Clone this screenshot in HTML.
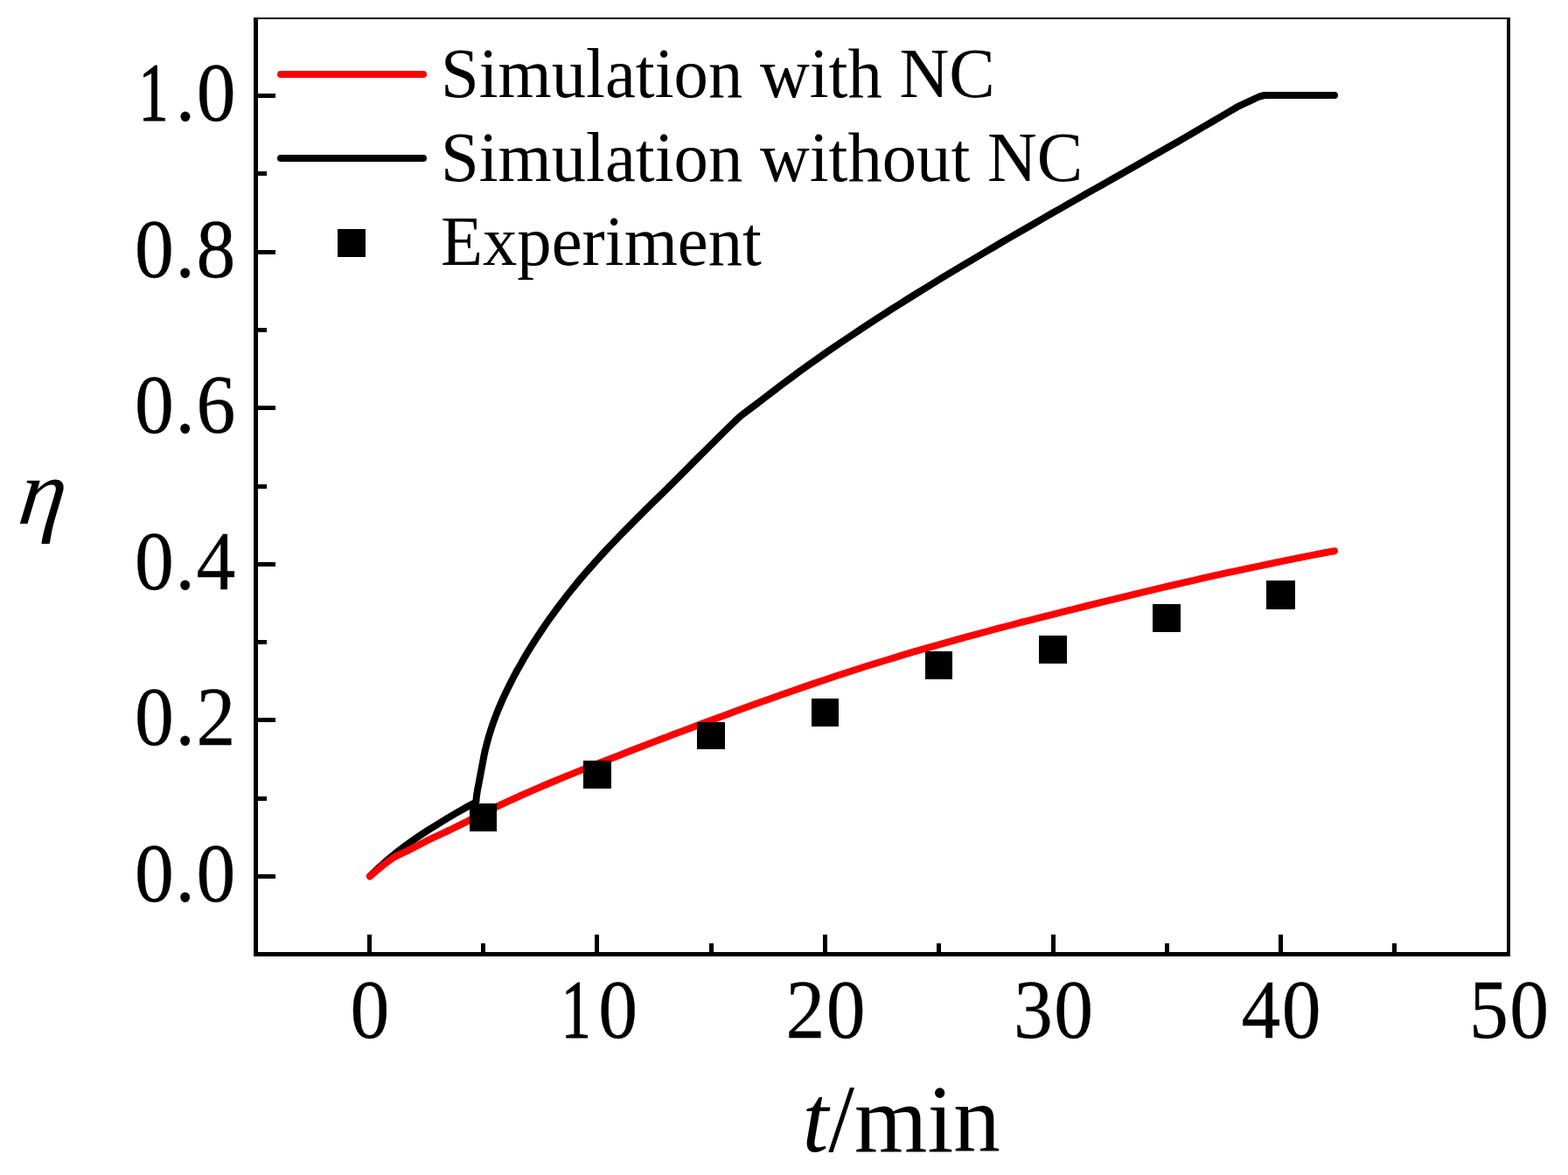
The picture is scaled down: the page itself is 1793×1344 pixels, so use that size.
<!DOCTYPE html>
<html lang="en"><head><meta charset="utf-8"><title>Conversion versus time</title>
<style>
html,body{margin:0;padding:0;background:#fff;}
body{width:1793px;height:1344px;overflow:hidden;}
svg{display:block;}
text{font-family:"Liberation Serif","DejaVu Serif",serif;fill:#000;font-kerning:none;stroke:#000;stroke-width:0;stroke-linejoin:round;}
.tick{stroke-width:0.3px;letter-spacing:1.65px;}
.tick{font-size:92.9px;}
.one{stroke-width:1.2px;}
.leg{font-size:78.6px;}
.tit{font-size:107.2px;}
.it{font-style:italic;}
</style></head><body>
<svg width="1793" height="1344" viewBox="0 0 1793 1344">
<rect x="0" y="0" width="1793" height="1344" fill="#fff"/>
<g fill="#000" shape-rendering="crispEdges">
<rect x="290" y="20" width="5" height="1074"/>
<rect x="1723" y="20" width="4" height="1074"/>
<rect x="290" y="20" width="1437" height="2"/>
<rect x="290" y="1089" width="1437" height="5"/>
<rect x="294" y="1000" width="21" height="5"/>
<rect x="294" y="911" width="11" height="5"/>
<rect x="294" y="821" width="21" height="5"/>
<rect x="294" y="732" width="11" height="5"/>
<rect x="294" y="643" width="21" height="5"/>
<rect x="294" y="554" width="11" height="5"/>
<rect x="294" y="464" width="21" height="5"/>
<rect x="294" y="375" width="11" height="5"/>
<rect x="294" y="286" width="21" height="5"/>
<rect x="294" y="196" width="11" height="5"/>
<rect x="294" y="107" width="21" height="5"/>
<rect x="420" y="1068.5" width="5" height="21.5"/>
<rect x="550" y="1079" width="5" height="11"/>
<rect x="680" y="1068.5" width="5" height="21.5"/>
<rect x="811" y="1079" width="5" height="11"/>
<rect x="941" y="1068.5" width="5" height="21.5"/>
<rect x="1071" y="1079" width="5" height="11"/>
<rect x="1202" y="1068.5" width="5" height="21.5"/>
<rect x="1332" y="1079" width="5" height="11"/>
<rect x="1462" y="1068.5" width="5" height="21.5"/>
<rect x="1592" y="1079" width="5" height="11"/>
</g>
<polyline points="423.1,1002.1 434.0,991.7 444.9,982.1 455.9,973.2 466.8,965.0 477.7,957.4 488.6,950.2 499.6,943.3 510.5,936.6 521.4,930.1 532.3,923.9 544.3,917.5 545.0,910.0 546.2,902.6 547.7,895.1 549.1,887.6 550.5,880.1 551.9,872.7 553.3,865.2 554.9,857.7 556.8,850.2 558.8,842.8 561.1,835.3 563.6,827.8 566.3,820.4 569.2,812.9 572.4,805.4 575.7,797.9 579.2,790.5 582.9,783.0 586.7,775.5 590.7,768.0 594.9,760.6 599.2,753.1 603.6,745.6 608.2,738.2 613.0,730.7 617.9,723.2 622.9,715.7 628.1,708.3 633.5,700.8 639.0,693.3 644.7,685.8 650.5,678.4 656.5,670.9 662.7,663.4 669.1,655.9 675.6,648.5 682.3,641.0 689.1,633.5 696.1,626.1 703.3,618.6 710.5,611.1 717.8,603.6 725.2,596.2 732.7,588.7 740.2,581.2 747.8,573.7 755.3,566.3 762.9,558.8 770.4,551.3 777.9,543.9 785.4,536.4 792.8,528.9 800.3,521.4 807.8,514.0 815.3,506.5 822.8,499.0 830.4,491.5 838.1,484.1 845.9,476.6 855.5,469.3 865.2,462.0 874.8,454.6 884.5,447.2 894.1,439.9 903.8,432.7 913.4,425.5 923.1,418.6 932.7,411.7 942.4,404.9 952.0,398.3 961.6,391.7 971.3,385.2 980.9,378.8 990.6,372.4 1000.2,366.2 1009.9,359.9 1019.5,353.7 1029.2,347.6 1038.8,341.5 1048.5,335.5 1058.1,329.6 1067.8,323.6 1077.4,317.7 1087.0,311.9 1096.7,306.1 1106.3,300.3 1116.0,294.6 1125.6,288.9 1135.3,283.2 1144.9,277.5 1154.6,271.9 1164.2,266.3 1173.9,260.7 1183.5,255.2 1193.1,249.6 1202.8,244.1 1212.4,238.6 1222.1,233.1 1231.7,227.6 1241.4,222.1 1251.0,216.6 1260.7,211.2 1270.3,205.7 1280.0,200.2 1289.6,194.7 1299.3,189.2 1308.9,183.8 1318.5,178.2 1328.2,172.7 1337.8,167.2 1347.5,161.7 1357.1,156.1 1366.8,150.5 1376.4,144.9 1386.1,139.3 1395.7,133.6 1405.4,127.9 1415.0,122.2 1430.0,115.2 1440.0,110.5 1446.0,109.0 1526.0,109.0" fill="none" stroke="#000" stroke-width="8" stroke-linecap="round" stroke-linejoin="round"/>
<polyline points="422.8,1002.4 430.5,996.0 438.1,989.6 444.5,984.9 450.6,980.6 458.0,976.9 466.0,973.2 477.5,967.2 489.0,961.2 501.5,955.3 514.0,949.5 526.0,943.6 534.6,939.3 547.0,933.0 559.4,926.9 571.8,920.9 584.2,915.1 596.6,909.5 609.0,904.1 621.4,898.8 633.8,893.5 646.2,888.4 658.6,883.4 670.9,878.4 683.3,873.5 695.7,868.7 708.1,863.9 720.5,859.1 732.9,854.3 745.3,849.6 757.7,844.8 770.1,840.1 782.5,835.4 794.9,830.7 807.3,826.1 819.6,821.5 832.0,816.9 844.4,812.3 856.8,807.8 869.2,803.3 881.6,798.9 894.0,794.5 906.4,790.2 918.8,785.9 931.2,781.6 943.6,777.5 956.0,773.3 968.4,769.3 980.7,765.3 993.1,761.3 1005.5,757.5 1017.9,753.7 1030.3,749.9 1042.7,746.2 1055.1,742.6 1067.5,739.1 1079.9,735.6 1092.3,732.1 1104.7,728.7 1117.1,725.3 1129.5,722.0 1141.8,718.7 1154.2,715.5 1166.6,712.2 1179.0,709.1 1191.4,705.9 1203.8,702.8 1216.2,699.7 1228.6,696.6 1241.0,693.5 1253.4,690.4 1265.8,687.4 1278.2,684.4 1290.5,681.4 1302.9,678.4 1315.3,675.4 1327.7,672.4 1340.1,669.5 1352.5,666.6 1364.9,663.8 1377.3,660.9 1389.7,658.2 1402.1,655.4 1414.5,652.8 1426.9,650.1 1439.3,647.6 1451.6,645.0 1464.0,642.4 1476.4,639.8 1488.8,637.3 1501.2,634.9 1513.6,632.5 1526.0,630.2" fill="none" stroke="#f00" stroke-width="8" stroke-linecap="round" stroke-linejoin="round"/>
<g fill="#000" shape-rendering="crispEdges">
<rect x="537" y="919" width="31" height="32"/>
<rect x="667" y="870" width="32" height="32"/>
<rect x="797" y="826" width="32" height="31"/>
<rect x="928" y="799" width="31" height="32"/>
<rect x="1058" y="745" width="31" height="32"/>
<rect x="1188" y="727" width="32" height="32" rx="1.5"/>
<rect x="1318" y="691" width="32" height="32" rx="1.5"/>
<rect x="1448" y="664" width="33" height="33" rx="1.5"/>
<rect x="386" y="262" width="32" height="32"/>
</g>
<line x1="321" y1="85" x2="484" y2="85" stroke="#f00" stroke-width="8" stroke-linecap="round"/>
<line x1="321" y1="181" x2="484" y2="181" stroke="#000" stroke-width="8" stroke-linecap="round"/>
<text class="leg" transform="translate(504.0,110.5) scale(1.001,1.02)">Simulation with NC</text>
<text class="leg" transform="translate(504.0,206.5) scale(1.001,1.02)">Simulation without NC</text>
<text class="leg" transform="translate(504.0,302.5) scale(1.001,1.02)">Experiment</text>
<text class="tick" text-anchor="end" transform="translate(270.8,1030.9) scale(0.965,1.02)">0.0</text>
<text class="tick" text-anchor="end" transform="translate(270.8,852.3) scale(0.965,1.02)">0.2</text>
<text class="tick" text-anchor="end" transform="translate(270.8,673.7) scale(0.965,1.02)">0.4</text>
<text class="tick" text-anchor="end" transform="translate(270.8,495.1) scale(0.965,1.02)">0.6</text>
<text class="tick" text-anchor="end" transform="translate(270.8,316.5) scale(0.965,1.02)">0.8</text>
<text class="tick" text-anchor="end" transform="translate(267.3,137.9) scale(0.965,1.02)"><tspan class="one" dx="4.10" textLength="36.56" lengthAdjust="spacingAndGlyphs">1</tspan><tspan dx="7.44">.0</tspan></text>
<text class="tick" text-anchor="middle" transform="translate(423.8,1187.0) scale(0.965,1.02)">0</text>
<text class="tick" text-anchor="middle" transform="translate(682.3,1187.0) scale(0.965,1.02)"><tspan class="one" dx="4.10" textLength="36.56" lengthAdjust="spacingAndGlyphs">1</tspan><tspan dx="7.44">0</tspan></text>
<text class="tick" text-anchor="middle" transform="translate(944.8,1187.0) scale(0.965,1.02)">20</text>
<text class="tick" text-anchor="middle" transform="translate(1205.3,1187.0) scale(0.965,1.02)">30</text>
<text class="tick" text-anchor="middle" transform="translate(1465.8,1187.0) scale(0.965,1.02)">40</text>
<text class="tick" text-anchor="middle" transform="translate(1726.3,1187.0) scale(0.965,1.02)">50</text>
<text class="tit" transform="translate(917.5,1317.3) scale(1,1.03)"><tspan class="it">t</tspan>/min</text>
<text class="tit it" transform="translate(19,599) skewX(-7) scale(1,1.0)">η</text>
</svg>
</body></html>
